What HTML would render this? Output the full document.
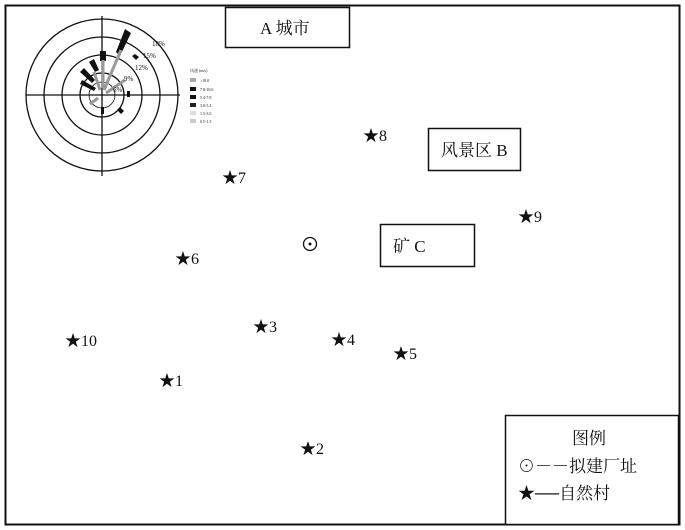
<!DOCTYPE html>
<html><head><meta charset="utf-8"><style>
html,body{margin:0;padding:0;background:#fff;}
svg{display:block;}
text{font-family:"Liberation Serif","Noto Serif CJK SC",serif;fill:#111;}
</style></head><body>
<svg width="685" height="530" viewBox="0 0 685 530" xmlns="http://www.w3.org/2000/svg">
<rect x="5.5" y="5.5" width="674" height="519" fill="#fff" stroke="#111" stroke-width="2"/>
<!-- wind rose -->
<g stroke="#111" fill="none" stroke-width="1.3">
<circle cx="102" cy="95" r="76"/>
<circle cx="102" cy="95" r="58"/>
<circle cx="102" cy="95" r="40"/>
<circle cx="102" cy="95" r="22"/>
<circle cx="102" cy="95" r="13" stroke-width="0.8"/>
<line x1="26" y1="95" x2="180" y2="95"/>
<line x1="102" y1="16" x2="102" y2="176"/>
</g>
<g fill="#111">
<polygon points="120,56 131,33 125,29 116,52" />
<polygon points="132,56 136,60 139,57 135,54"/>
<rect x="100" y="51" width="6" height="10"/>
<polygon points="89,62 94,59 99,70 95,72"/>
<polygon points="80,72 84,68 95,80 92,83"/>
<polygon points="80,84 82,80 96,88 94,91"/>
<rect x="127" y="91" width="3" height="6"/>
<polygon points="117,110 120,107 124,111 121,114"/>
<rect x="101" y="107" width="3" height="7"/>
</g>
<g stroke="#999" stroke-width="3" fill="none">
<line x1="104" y1="90" x2="121" y2="50"/>
<line x1="103" y1="88" x2="103" y2="60"/>
<line x1="100" y1="90" x2="94" y2="72"/>
<line x1="106" y1="93" x2="125" y2="80"/>
<line x1="98" y1="98" x2="90" y2="104"/>
</g>
<g font-size="7" font-family="Liberation Sans,sans-serif">
<text x="152" y="46">18%</text>
<text x="143" y="58">15%</text>
<text x="135" y="70">12%</text>
<text x="124" y="81">9%</text>
<text x="113" y="92">6%</text>
</g>
<g font-size="4" font-family="Liberation Sans,sans-serif">
<text x="190" y="72">风速 (m/s)</text>
<rect x="190" y="78" width="6" height="4" fill="#aaa"/><text x="200" y="82">&gt;10.0</text>
<rect x="190" y="87" width="6" height="4" fill="#111"/><text x="200" y="91">7.8-10.0</text>
<rect x="190" y="95" width="6" height="4" fill="#111"/><text x="200" y="99">5.4-7.8</text>
<rect x="190" y="103" width="6" height="4" fill="#222"/><text x="200" y="107">3.0-5.4</text>
<rect x="190" y="111" width="6" height="4" fill="#ddd"/><text x="200" y="115">1.5-3.0</text>
<rect x="190" y="119" width="6" height="4" fill="#ccc"/><text x="200" y="123">0.5-1.5</text>
</g>
<!-- boxes -->
<g fill="#fff" stroke="#111" stroke-width="1.5">
<rect x="225.5" y="7.5" width="124" height="40"/>
<rect x="428.5" y="128.5" width="92" height="42"/>
<rect x="380.5" y="224.5" width="94" height="42"/>
<rect x="505.5" y="415.5" width="173" height="109"/>
</g>
<text x="260" y="34" font-size="17" font-family="Liberation Sans,'Noto Sans CJK SC',sans-serif">A 城市</text>
<text x="441" y="156" font-size="17">风景区 B</text>
<text x="393" y="252" font-size="17">矿 C</text>
<text x="572" y="444" font-size="17">图例</text>
<text x="518" y="472" font-size="17">⊙－－拟建厂址</text>
<text x="518" y="499" font-size="17">★──自然村</text>
<!-- site -->
<circle cx="310" cy="244" r="6.5" fill="none" stroke="#111" stroke-width="1.3"/>
<circle cx="310" cy="244" r="1.5" fill="#111"/>
<!-- villages -->
<g font-size="16">
<text x="363" y="141">★8</text>
<text x="222" y="183">★7</text>
<text x="518" y="222">★9</text>
<text x="175" y="264">★6</text>
<text x="65" y="346">★10</text>
<text x="253" y="332">★3</text>
<text x="331" y="345">★4</text>
<text x="393" y="359">★5</text>
<text x="159" y="386">★1</text>
<text x="300" y="454">★2</text>
</g>
</svg>
</body></html>
